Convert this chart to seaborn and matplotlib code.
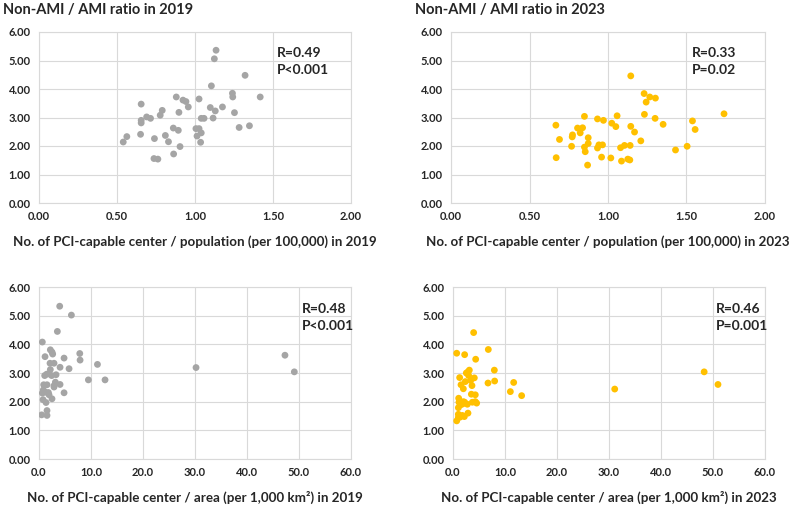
import numpy as np
import pandas as pd
import matplotlib
matplotlib.use('Agg')
import matplotlib.pyplot as plt
import seaborn as sns

# population-based density (per 100,000) vs Non-AMI/AMI ratio
pop_2019_x = [0.54, 0.563, 0.651, 0.655, 0.655, 0.655, 0.69, 0.715, 0.74, 0.737, 0.762, 0.777,
              0.79, 0.81, 0.83, 0.861, 0.863, 0.88, 0.893, 0.897, 0.904, 0.923, 0.942, 0.957,
              1.006, 1.026, 1.013, 1.026, 1.036, 1.04, 1.04, 1.058, 1.098, 1.105, 1.116, 1.124,
              1.13, 1.135, 1.176, 1.24, 1.242, 1.253, 1.283, 1.321, 1.349, 1.418]
pop_2019_y = [2.14, 2.33, 2.41, 2.81, 2.90, 3.47, 3.02, 2.97, 2.26, 1.56, 1.54, 3.08,
              3.25, 2.37, 2.15, 2.63, 1.72, 3.72, 2.55, 3.18, 1.98, 3.61, 3.56, 3.37,
              2.61, 2.61, 2.35, 3.65, 2.13, 2.46, 2.97, 2.97, 3.35, 4.11, 2.98, 5.06,
              3.23, 5.36, 3.37, 3.85, 3.72, 3.17, 2.65, 4.48, 2.71, 3.72]

pop_2023_x = [0.668, 0.670, 0.691, 0.768, 0.772, 0.774, 0.806, 0.823, 0.838, 0.85, 0.85, 0.855,
              0.87, 0.874, 0.874, 0.933, 0.933, 0.942, 0.959, 0.965, 0.971, 1.018, 1.024, 1.05,
              1.058, 1.08, 1.086, 1.105, 1.126, 1.139, 1.141, 1.145, 1.145, 1.169, 1.209, 1.23,
              1.232, 1.243, 1.266, 1.30, 1.302, 1.351, 1.43, 1.504, 1.538, 1.555, 1.739]
pop_2023_y = [2.73, 1.59, 2.23, 1.99, 2.32, 2.39, 2.63, 2.46, 2.64, 3.04, 1.96, 1.80,
              1.33, 2.29, 2.09, 2.95, 1.93, 2.04, 1.61, 2.04, 2.90, 1.58, 2.80, 2.68,
              3.06, 1.94, 1.47, 2.02, 1.54, 1.51, 2.02, 2.69, 4.46, 2.49, 2.18, 3.84,
              3.11, 3.54, 3.72, 2.97, 3.68, 2.76, 1.86, 1.99, 2.88, 2.58, 3.13]

# area-based density (per 1,000 km2) vs Non-AMI/AMI ratio
area_2019_x = [0.51, 0.64, 1.16, 3.98, 6.23, 3.53, 2.18, 2.5, 2.63, 4.82, 7.84, 7.9,
               2.12, 2.89, 11.24, 4.05, 5.78, 2.18, 1.93, 1.09, 2.44, 3.28, 1.48, 3.15,
               4.05, 2.89, 2.89, 9.5, 12.7, 0.9, 1.54, 0.83, 0.64, 1.22, 1.8, 1.93,
               4.82, 0.77, 1.35, 2.5, 1.54, 1.54, 30.2, 47.3, 49.1]
area_2019_y = [1.54, 4.08, 3.57, 5.33, 5.02, 4.45, 3.81, 3.73, 3.66, 3.52, 3.68, 3.45,
               3.34, 3.34, 3.30, 3.20, 3.15, 3.12, 2.97, 2.91, 2.91, 2.94, 2.96, 2.68,
               2.60, 2.56, 2.51, 2.76, 2.76, 2.59, 2.59, 2.41, 2.30, 2.33, 2.32, 2.24,
               2.31, 2.07, 1.97, 2.10, 1.69, 1.52, 3.19, 3.62, 3.04]

area_2023_x = [0.71, 0.71, 3.97, 2.24, 4.36, 6.79, 7.95, 8.01, 6.73, 11.67, 11.03, 13.2,
               31.1, 48.3, 50.96, 1.28, 1.54, 1.99, 2.37, 2.56, 2.88, 3.14, 3.01, 3.40,
               4.1, 3.65, 3.53, 4.29, 3.72, 4.55, 4.29, 1.09, 1.15, 1.03, 1.47, 1.86,
               2.24, 2.76, 1.99, 1.03, 1.03, 1.79, 2.18, 2.88, 1.35]
area_2023_y = [1.33, 3.69, 4.41, 3.64, 3.48, 3.82, 3.10, 2.72, 2.65, 2.67, 2.35, 2.21,
               2.44, 3.04, 2.60, 2.84, 2.59, 2.45, 2.70, 3.00, 3.04, 3.10, 2.91, 2.74,
               2.83, 2.56, 2.26, 2.24, 1.98, 1.95, 2.00, 2.12, 1.98, 1.79, 1.89, 1.92,
               1.98, 1.91, 2.00, 1.56, 1.45, 1.52, 1.48, 1.60, 1.46]

stats_text = ['R=0.49\nP<0.001', 'R=0.33\nP=0.02', 'R=0.48\nP<0.001', 'R=0.46\nP=0.001']
titles = ['Non-AMI / AMI ratio in 2019', 'Non-AMI / AMI ratio in 2023']
xlabels = ['No. of PCI-capable center / population (per 100,000) in 2019',
           'No. of PCI-capable center / population (per 100,000) in 2023',
           'No. of PCI-capable center / area (per 1,000 km²) in 2019',
           'No. of PCI-capable center / area (per 1,000 km²) in 2023']

GRAY = '#A5A5A5'
GOLD = '#FFC000'
GRID = '#D9D9D9'

sns.set_theme(style='white')
plt.rcParams['font.family'] = ['Lato', 'DejaVu Sans']
plt.rcParams['font.weight'] = 'bold'


def draw_panel(ax, x, y, color, xmax, xstep, xfmt, label, stats, stats_x):
    df = pd.DataFrame({'x': x, 'y': y})
    sns.scatterplot(data=df, x='x', y='y', ax=ax, color=color, s=24,
                    edgecolor='none', linewidth=0, zorder=3)
    ax.set_xlim(0, xmax)
    ax.set_ylim(0, 6)
    ax.set_xticks(np.arange(0, xmax + xstep / 2, xstep))
    ax.set_yticks(np.arange(0, 6.5, 1))
    ax.xaxis.set_major_formatter(plt.FormatStrFormatter(xfmt))
    ax.yaxis.set_major_formatter(plt.FormatStrFormatter('%.2f'))
    ax.grid(True, color=GRID, linewidth=0.8)
    ax.set_axisbelow(True)
    for sp in ax.spines.values():
        sp.set_color(GRID)
        sp.set_linewidth(0.8)
    ax.tick_params(length=0, labelsize=8, pad=6)
    for t in ax.get_xticklabels() + ax.get_yticklabels():
        t.set_fontweight('bold')
    ax.set_xlabel(label, fontsize=9.6, fontweight='bold', labelpad=9)
    ax.set_ylabel('')
    ax.text(stats_x, 0.825, stats, transform=ax.transAxes, fontsize=10,
            fontweight='bold', va='center', ha='left', linespacing=1.5)


fig = plt.figure(figsize=(7.92, 5.09), dpi=100)
ax1 = fig.add_axes([39 / 792, 1 - 203 / 509, 312 / 792, 171 / 509])
ax2 = fig.add_axes([451 / 792, 1 - 203 / 509, 314 / 792, 171 / 509])
ax3 = fig.add_axes([39 / 792, 1 - 459 / 509, 312 / 792, 172 / 509])
ax4 = fig.add_axes([453 / 792, 1 - 459 / 509, 312 / 792, 172 / 509])

draw_panel(ax1, pop_2019_x, pop_2019_y, GRAY, 2.0, 0.5, '%.2f', xlabels[0], stats_text[0], 0.763)
draw_panel(ax2, pop_2023_x, pop_2023_y, GOLD, 2.0, 0.5, '%.2f', xlabels[1], stats_text[1], 0.767)
draw_panel(ax3, area_2019_x, area_2019_y, GRAY, 60, 10, '%.1f', xlabels[2], stats_text[2], 0.843)
draw_panel(ax4, area_2023_x, area_2023_y, GOLD, 60, 10, '%.1f', xlabels[3], stats_text[3], 0.843)

fig.text(3 / 792, 1 - 10 / 509, titles[0], fontsize=10.5, fontweight='bold', va='center', ha='left')
fig.text(415 / 792, 1 - 10 / 509, titles[1], fontsize=10.5, fontweight='bold', va='center', ha='left')

fig.savefig('out.png', dpi=100)
plt.close(fig)
